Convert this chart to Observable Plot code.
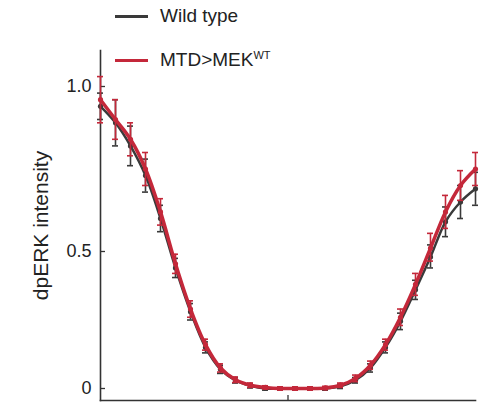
<!DOCTYPE html>
<html>
<head>
<meta charset="utf-8">
<script src="https://cdn.jsdelivr.net/npm/d3@7"></script>
<script src="https://cdn.jsdelivr.net/npm/@observablehq/plot@0.6"></script>
<style>
  html, body { margin: 0; padding: 0; background: #fff; }
  #wrap { position: relative; width: 487px; height: 405px; font-family: "Liberation Sans", Arial, sans-serif; }
  #legend { position: absolute; left: 0; top: 0; width: 487px; height: 80px; pointer-events: none; }
  .item { position: absolute; left: 115px; display: flex; align-items: center; font-size: 19px; color: #222; }
  .swatch { width: 33px; height: 3px; margin-right: 12px; }
  sup { font-size: 11px; position: relative; top: -5px; }
</style>
</head>
<body>
<div id="wrap">
  <div id="chart"></div>
  <div id="legend"></div>
</div>
<script>
// Position along the embryo (bins 0..25)
const positions = d3.range(0, 26);

// Series names and colours
const seriesNames = ["Wild type", "MTD>MEK"];
const seriesSup = ["", "WT"];
const seriesColors = ["#3a3a3a", "#c4283a"];

// Mean dpERK intensity
const wildType = [0.94, 0.89, 0.82, 0.73, 0.60, 0.44, 0.28, 0.15, 0.07, 0.03, 0.01, 0.0, 0.0, 0.0, 0.0, 0.0, 0.008, 0.03, 0.075, 0.15, 0.245, 0.36, 0.48, 0.59, 0.65, 0.69];
const mekWT    = [0.96, 0.90, 0.84, 0.75, 0.62, 0.455, 0.29, 0.16, 0.075, 0.032, 0.012, 0.004, 0.0, 0.0, 0.0, 0.002, 0.012, 0.037, 0.085, 0.16, 0.26, 0.38, 0.51, 0.62, 0.70, 0.75];

// Standard errors
const wildTypeSem = [0.04, 0.07, 0.06, 0.05, 0.04, 0.035, 0.03, 0.02, 0.015, 0.01, 0.008, 0.006, 0.006, 0.006, 0.006, 0.006, 0.008, 0.01, 0.015, 0.02, 0.03, 0.035, 0.04, 0.045, 0.05, 0.05];
const mekWTSem    = [0.07, 0.06, 0.05, 0.05, 0.04, 0.035, 0.03, 0.02, 0.015, 0.01, 0.008, 0.006, 0.006, 0.006, 0.006, 0.006, 0.008, 0.012, 0.015, 0.02, 0.03, 0.04, 0.045, 0.05, 0.045, 0.05];

// Axis ticks
const yTicks = [0, 0.5, 1];
const xTicks = [12.5];

// The source figure's y axis is not uniformly spaced between its ticks;
// this piecewise warp reproduces that spacing.
const warp = d3.scaleLinear().domain([-0.044, 0, 0.5, 1, 1.109]).range([-12, 0, 137, 302, 338]);

const rows = [];
[wildType, mekWT].forEach((vals, si) => {
  const sems = si === 0 ? wildTypeSem : mekWTSem;
  positions.forEach((p, i) => rows.push({series: seriesNames[si], x: p, y: vals[i], sem: sems[i]}));
});

function seriesMarks(name, color, width) {
  const data = rows.filter(d => d.series === name);
  return [
    Plot.ruleX(data, {x: "x", y1: d => warp(d.y - d.sem), y2: d => warp(d.y + d.sem), stroke: color, strokeWidth: 1.6}),
    Plot.ruleY(data, {y: d => warp(d.y - d.sem), x1: d => d.x - 0.2, x2: d => d.x + 0.2, stroke: color, strokeWidth: 1.6}),
    Plot.ruleY(data, {y: d => warp(d.y + d.sem), x1: d => d.x - 0.2, x2: d => d.x + 0.2, stroke: color, strokeWidth: 1.6}),
    Plot.line(data, {x: "x", y: d => warp(d.y), stroke: color, strokeWidth: width, curve: "catmull-rom"}),
    Plot.dot(data, {x: "x", y: d => warp(d.y), fill: color, r: 2.6})
  ];
}

const yTickPos = yTicks.map(warp);
const fmt = t => { const v = Math.round(warp.invert(t) * 10) / 10; return v === 0 ? "0" : v.toFixed(1); };

const chart = Plot.plot({
  width: 487,
  height: 405,
  marginLeft: 100,
  marginRight: 12,
  marginTop: 50,
  marginBottom: 5,
  style: {fontFamily: "'Liberation Sans', Arial, sans-serif", background: "#fff", overflow: "visible"},
  x: {domain: [0, 25]},
  y: {domain: warp.range().filter((d, i, a) => i === 0 || i === a.length - 1)},
  marks: [
    Plot.frame({anchor: "left", stroke: "#333", strokeWidth: 1.6}),
    Plot.frame({anchor: "bottom", stroke: "#333", strokeWidth: 1.6}),
    Plot.axisY(yTickPos, {tickSize: -5, text: null, stroke: "#333", strokeWidth: 1.3, label: null}),
    Plot.axisY(yTickPos, {tickSize: 0, tickPadding: 9, fontSize: 18, fill: "#222",
      tickFormat: fmt,
      label: "dpERK intensity", labelAnchor: "center", labelArrow: "none", labelOffset: 67}),
    Plot.axisX(xTicks, {tickSize: -5, text: null, stroke: "#333", strokeWidth: 1.3, label: null}),
    ...seriesMarks(seriesNames[0], seriesColors[0], 2.5),
    ...seriesMarks(seriesNames[1], seriesColors[1], 3.5)
  ]
});
chart.querySelectorAll("g[aria-label='y-axis label'] text, g[aria-label='y-axis label']").forEach(el => el.setAttribute("font-size", 21));
document.getElementById("chart").appendChild(chart);

// Legend
const legend = document.getElementById("legend");
const tops = [5, 49];
seriesNames.forEach((n, i) => {
  const item = document.createElement("div");
  item.className = "item";
  item.style.top = tops[i] + "px";
  const sw = document.createElement("span");
  sw.className = "swatch";
  sw.style.background = seriesColors[i];
  const txt = document.createElement("span");
  txt.textContent = n;
  item.appendChild(sw);
  item.appendChild(txt);
  if (seriesSup[i]) {
    const s = document.createElement("sup");
    s.textContent = seriesSup[i];
    item.appendChild(s);
  }
  legend.appendChild(item);
});
</script>
</body>
</html>
